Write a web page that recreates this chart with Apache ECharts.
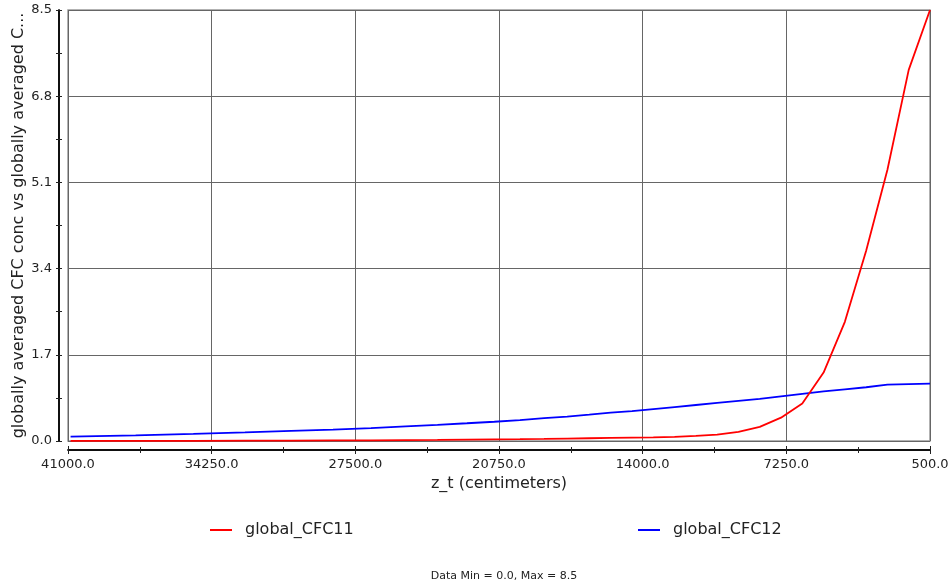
<!DOCTYPE html>
<html>
<head>
<meta charset="utf-8">
<script src="https://cdn.jsdelivr.net/npm/echarts@6/dist/echarts.min.js"></script>
<style>html,body{margin:0;padding:0;background:#fff}#c{width:951px;height:581px}</style>
</head>
<body>
<div id="c"></div>
<script>
// depth levels (z_t, centimeters)
const zt = [500, 1500, 2500, 3500, 4500, 5500, 6500, 7500, 8500, 9500, 10500, 11500, 12500, 13500, 14500, 15500,
  16509.84, 17547.9, 18629.13, 19766.03, 20971.14, 22257.83, 23640.88, 25137.02, 26765.42, 28548.37,
  30511.92, 32686.8, 35109.35, 37822.76, 40878.46];
const cfc11 = [8.5, 7.32, 5.35, 3.75, 2.35, 1.35, 0.74, 0.46, 0.28, 0.18, 0.125, 0.10, 0.08, 0.07, 0.065, 0.06,
  0.054, 0.048, 0.042, 0.037, 0.032, 0.027, 0.022, 0.018, 0.014, 0.011, 0.008, 0.006, 0.004, 0.003, 0.002];
const cfc12 = [1.13, 1.12, 1.11, 1.06, 1.02, 0.98, 0.93, 0.88, 0.83, 0.79, 0.75, 0.71, 0.67, 0.63, 0.59, 0.56,
  0.52, 0.48, 0.45, 0.41, 0.38, 0.35, 0.32, 0.29, 0.255, 0.225, 0.20, 0.17, 0.14, 0.11, 0.085];
const seriesNames = ['global_CFC11', 'global_CFC12'];
const xTicks = [41000, 34250, 27500, 20750, 14000, 7250, 500];
const yTicks = [0, 1.7, 3.4, 5.1, 6.8, 8.5];
const yTitle = 'globally averaged CFC conc vs globally averaged C...';
const xTitle = 'z_t (centimeters)';
const subTitle = 'Data Min = 0.0, Max = 8.5';

const FONT = 'DejaVu Sans';
const chart = echarts.init(document.getElementById('c'));
const pair = (xs, ys) => xs.map((x, i) => [x, ys[i]]);
const xMin = xTicks[xTicks.length - 1], xMax = xTicks[0], xInt = xTicks[0] - xTicks[1];
const yMin = yTicks[0], yMax = yTicks[yTicks.length - 1], yInt = yTicks[1] - yTicks[0];

const baseX = {
  type: 'value', inverse: true, min: xMin, max: xMax, interval: xInt,
  position: 'bottom', offset: 9
};
const baseY = {
  type: 'value', min: yMin, max: yMax, interval: yInt, position: 'left', offset: 9
};
const legendText = { fontSize: 16, color: '#222', fontFamily: FONT, padding: [0, 0, 0, 8] };
chart.setOption({
  animation: false,
  textStyle: { fontFamily: FONT },
  grid: { left: 68, right: 21, top: 10, bottom: 140, show: true, borderColor: '#999', borderWidth: 1.5,
    backgroundColor: '#fff', containLabel: false, outerBoundsMode: 'none' },
  title: {
    text: subTitle, left: 499, top: 566, textAlign: 'center',
    textStyle: { fontSize: 11, fontWeight: 'normal', color: '#222', fontFamily: FONT }
  },
  legend: [
    { data: [seriesNames[0]], left: 205, top: 517, itemWidth: 22, itemHeight: 2, icon: 'rect', textStyle: legendText },
    { data: [seriesNames[1]], left: 633, top: 517, itemWidth: 22, itemHeight: 2, icon: 'rect', textStyle: legendText }
  ],
  xAxis: [
    Object.assign({}, baseX, {
      name: xTitle, nameLocation: 'middle', nameGap: 26, nameMoveOverlap: false,
      nameTextStyle: { fontSize: 16, color: '#222', fontFamily: FONT },
      axisLine: { show: true, onZero: false, lineStyle: { color: '#000', width: 1.5 } },
      axisTick: { show: true, inside: false, length: 4, lineStyle: { color: '#222' } },
      minorTick: { show: true, splitNumber: 2, length: 3, lineStyle: { color: '#222' } },
      axisLabel: { margin: 8, fontSize: 13, color: '#222', fontFamily: FONT, formatter: v => v.toFixed(1) },
      splitLine: { show: true, lineStyle: { color: '#666', width: 1 } }
    }),
    Object.assign({}, baseX, {
      axisLine: { show: true, onZero: false, lineStyle: { color: '#000', width: 1.5 } },
      axisTick: { show: true, inside: true, length: 4, lineStyle: { color: '#222' } },
      minorTick: { show: true, splitNumber: 2, length: 3, lineStyle: { color: '#222' } },
      axisLabel: { show: false }, splitLine: { show: false }
    })
  ],
  yAxis: [
    Object.assign({}, baseY, {
      name: yTitle, nameLocation: 'middle', nameGap: 32, nameRotate: 90, nameMoveOverlap: false,
      nameTextStyle: { fontSize: 16, color: '#222', fontFamily: FONT },
      axisLine: { show: true, onZero: false, lineStyle: { color: '#000', width: 1.5 } },
      axisTick: { show: true, inside: false, length: 3, lineStyle: { color: '#222' } },
      minorTick: { show: true, splitNumber: 2, length: 3, lineStyle: { color: '#222' } },
      axisLabel: { margin: 7, fontSize: 13, color: '#222', fontFamily: FONT, formatter: v => v.toFixed(1) },
      splitLine: { show: true, lineStyle: { color: '#666', width: 1 } }
    }),
    Object.assign({}, baseY, {
      axisLine: { show: true, onZero: false, lineStyle: { color: '#000', width: 1.5 } },
      axisTick: { show: true, inside: true, length: 3, lineStyle: { color: '#222' } },
      minorTick: { show: true, splitNumber: 2, length: 3, lineStyle: { color: '#222' } },
      axisLabel: { show: false }, splitLine: { show: false }
    })
  ],
  series: [
    { name: seriesNames[0], type: 'line', data: pair(zt, cfc11), showSymbol: false, symbol: 'none',
      color: '#ff0000', lineStyle: { color: '#ff0000', width: 1.8 }, xAxisIndex: 0, yAxisIndex: 0, z: 3 },
    { name: seriesNames[1], type: 'line', data: pair(zt, cfc12), showSymbol: false, symbol: 'none',
      color: '#0000ff', lineStyle: { color: '#0000ff', width: 1.8 }, xAxisIndex: 0, yAxisIndex: 0, z: 2 }
  ]
});
</script>
</body>
</html>
